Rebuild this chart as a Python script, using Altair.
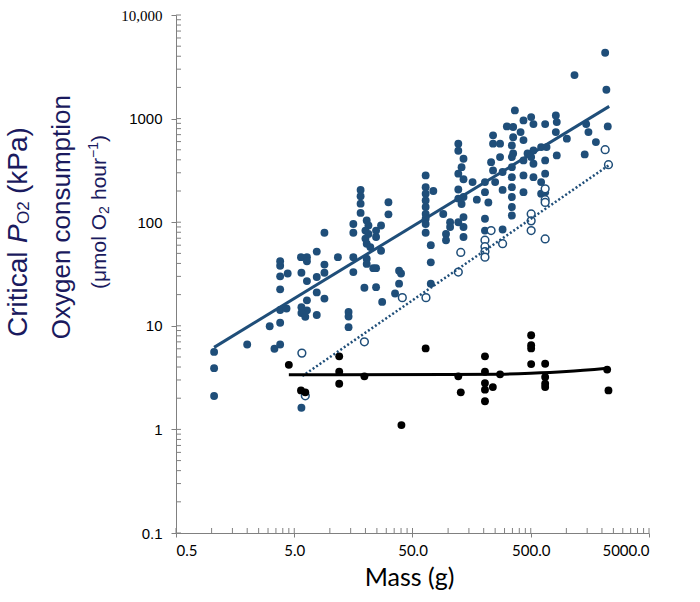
import altair as alt
import pandas as pd

# Oxygen consumption (umol O2 per hour) against body mass (g), filled markers
mass_filled = [
    1.05, 1.05, 1.05, 2.0, 3.1, 3.4,
    3.8, 3.8, 3.8, 3.8, 3.8, 3.8, 3.8, 4.3, 4.4,
    5.7, 6.4, 6.4, 5.75, 6.4, 7.75, 9.0, 9.0, 9.0, 7.75, 7.75, 9.0,
    6.4, 5.75, 6.4, 5.75, 6.2, 7.75, 5.75, 11.7,
    15.8, 15.8, 15.8, 15.8, 19.6, 14.4, 14.4, 14.4,
    24.6, 24.6, 27.7, 27.1, 35.6, 38.5, 40.0, 38.5,
    18.2, 18.2, 18.2, 18.2,
    20.5, 21.2, 20.0, 21.2, 20.0, 20.5, 22.0,
    27.1, 24.6, 24.6, 31.3, 31.3, 20.5, 20.5, 23.3,
    64.6, 64.6, 64.6, 64.6, 64.6, 64.6, 64.6, 64.6, 64.6,
    75, 71.4, 71.4, 71.4, 91, 104, 104, 96, 96,
    122, 122, 135, 130, 122, 135, 122, 135, 122, 130, 135, 122, 135, 135,
    161, 175,
    205, 205, 219, 205, 205, 289,
    240, 240, 275, 275, 231, 240, 289, 250, 289,
    314, 355, 434, 410, 355, 434, 346, 355, 346, 346, 346, 346, 346, 346, 346,
    367, 504, 527, 662,
    434, 527, 612, 662, 662, 434,
    504, 612, 680, 527, 470, 434, 527,
    612, 662,
    815, 830, 815, 830, 1010,
    1472, 1538, 1778, 1430,
    2129, 1172, 2180, 2240,
]
o2_filled = [
    5.6, 3.9, 2.1, 6.6, 9.9, 6.0,
    6.6, 10.7, 14.2, 22.5, 30, 38, 42, 14.7, 32,
    46, 46, 42, 32.5, 27, 52, 79, 39, 32.5, 29.6, 21, 18.3,
    17.6, 15.1, 14.1, 13.3, 12.2, 12.7, 1.62, 46,
    79, 96, 46, 33, 23.3, 13.6, 12.3, 9.7,
    23.6, 36, 17, 53, 20.5, 34, 32, 25.5,
    205, 178, 151, 123,
    104, 93, 83, 77, 69.5, 62, 57.5,
    93, 83, 72, 156, 119, 44.4, 39.6, 36,
    283, 218, 188, 162, 140, 120, 108, 96, 79,
    200, 60, 41, 25.5, 120, 100, 90, 77, 67,
    573, 490, 410, 340, 294, 260, 207, 175, 169, 150, 112, 100, 90, 72,
    244, 165,
    244, 195, 155, 108, 83, 85,
    689, 573, 573, 425, 380, 316, 305, 244, 205,
    841, 830, 961, 741, 660, 620, 550, 460, 425, 340, 272, 218, 175, 140, 116,
    1200, 1034, 885, 885,
    283, 272, 244, 294, 395, 195,
    425, 531, 531, 493, 460, 395, 367,
    188, 195,
    1074, 925, 741, 441, 640,
    885, 741, 593, 451,
    4325, 2630, 1901, 841,
]

# Open markers
mass_open = [5.8, 6.2, 19.6, 41, 65, 122, 128, 205, 205, 205, 205, 231, 289,
             504, 504, 504, 662, 662, 662, 662, 2129, 2271]
o2_open = [5.45, 2.11, 7.0, 18.7, 18.7, 33, 51, 67, 58, 52, 46, 83, 62,
           120, 103, 83, 69, 210, 165, 155, 501, 359]

# Critical PO2 (kPa)
mass_pcrit = [4.5, 5.7, 6.2, 12.0, 12.0, 12.0, 19.6, 40.3, 64.6, 122, 128,
              205, 205, 205, 205, 239, 205, 275, 504, 504, 504, 504,
              662, 662, 662, 662, 2214, 2271]
pcrit = [4.2, 2.38, 2.28, 5.07, 3.6, 2.76, 3.25, 1.1, 6.05, 3.25, 2.28,
         5.07, 3.6, 2.8, 2.42, 2.56, 1.87, 3.4, 8.1, 6.5, 6.05, 4.27,
         4.3, 3.2, 2.76, 2.56, 3.78, 2.38]

# Trend lines
trend_mass_filled = [1.05, 2303]
trend_o2_filled = [6.19, 1312]
trend_mass_open = [5.85, 2271]
trend_o2_open = [3.27, 353]
trend_mass_pcrit = [4.5, 100, 275, 500, 1000, 2214]
trend_pcrit = [3.37, 3.38, 3.41, 3.48, 3.62, 3.9]

# Axis tick values
x_major = [0.5, 5, 50, 500, 5000]
y_major = [0.1, 1, 10, 100, 1000, 10000]
x_inner = [0.5 * k * 10 ** e for e in range(4) for k in range(1, 10)] + [5000]
y_inner = [k * 10.0 ** e for e in range(-1, 4) for k in range(1, 10)] + [10000]

W, H = 473, 518
BLUE = "#1f4e79"
NAVY = "#1a1a5e"
GRAY = "#808080"

xscale = alt.Scale(type="log", domain=[0.5, 5000], nice=False)
yscale = alt.Scale(type="log", domain=[0.1, 10000], nice=False)

xaxis = alt.Axis(
    values=x_major, labelExpr="format(datum.value, '.1f')", grid=False,
    tickSize=4, tickColor=GRAY, domainColor=GRAY, labelPadding=6,
    labelFont="Lato", labelFontSize=15, labelColor="black",
    title="Mass (g)", titleFont="Lato", titleFontSize=25, titleFontWeight="normal",
    titleColor="black", titleBaseline="alphabetic", titleY=52, titleX=233,
    titleAnchor="middle", titleAlign="center",
)
yaxis = alt.Axis(
    values=y_major, grid=False, title=None,
    labelExpr="datum.value >= 10000 ? format(datum.value, ',') : (datum.value < 1 ? format(datum.value, '.1f') : format(datum.value, 'd'))",
    tickSize=5, tickColor=GRAY, domainColor=GRAY, labelPadding=9,
    labelFont={"condition": {"test": "datum.value >= 10000", "value": "Liberation Serif"},
               "value": "Liberation Sans"},
    labelFontSize=15, labelColor="black",
)


def X(field):
    return alt.X(field, scale=xscale, axis=xaxis)


def Y(field):
    return alt.Y(field, scale=yscale, axis=yaxis)


df_f = pd.DataFrame({"mass": mass_filled, "o2": o2_filled})
df_o = pd.DataFrame({"mass": mass_open, "o2": o2_open})
df_p = pd.DataFrame({"mass": mass_pcrit, "o2": pcrit})
df_tf = pd.DataFrame({"mass": trend_mass_filled, "o2": trend_o2_filled})
df_to = pd.DataFrame({"mass": trend_mass_open, "o2": trend_o2_open})
df_tp = pd.DataFrame({"mass": trend_mass_pcrit, "o2": trend_pcrit})

filled = alt.Chart(df_f).mark_circle(size=62, color=BLUE, opacity=1).encode(
    x=X("mass:Q"), y=Y("o2:Q"))
hollow = alt.Chart(df_o).mark_point(shape="circle", size=60, filled=False, fill="white",
                                     color=BLUE, strokeWidth=1.5, opacity=1).encode(
    x=X("mass:Q"), y=Y("o2:Q"))
black = alt.Chart(df_p).mark_circle(size=62, color="black", opacity=1).encode(
    x=X("mass:Q"), y=Y("o2:Q"))
line_f = alt.Chart(df_tf).mark_line(color=BLUE, strokeWidth=3).encode(
    x=X("mass:Q"), y=Y("o2:Q"))
line_o = alt.Chart(df_to).mark_line(color=BLUE, strokeWidth=2.5, strokeDash=[2, 2.2]).encode(
    x=X("mass:Q"), y=Y("o2:Q"))
line_p = alt.Chart(df_tp).mark_line(color="black", strokeWidth=3, interpolate="monotone").encode(
    x=X("mass:Q"), y=Y("o2:Q"))

# Inward half of the axis ticks, minor ticks included
xticks_in = alt.Chart(pd.DataFrame({"mass": x_inner})).mark_rule(color=GRAY, strokeWidth=1).encode(
    x=X("mass:Q"), y=alt.value(H - 5), y2=alt.value(H),
)
yticks_in = alt.Chart(pd.DataFrame({"o2": y_inner})).mark_rule(color=GRAY, strokeWidth=1).encode(
    y=Y("o2:Q"), x=alt.value(0), x2=alt.value(5),
)


def title_piece(text, x, y, size, style="normal", align="left"):
    return alt.Chart(alt.Data(values=[{}])).mark_text(
        text=text, angle=270, align=align, baseline="alphabetic",
        font="Liberation Sans", fontSize=size, fontStyle=style, color=NAVY,
    ).encode(x=alt.value(x), y=alt.value(y))


# Rotated y-axis title, three lines, with sub- and superscripts
L, T = 176, 15
titles = [
    title_piece("Critical", 27 - L, 337 - T, 28),
    title_piece("P", 27 - L, 243 - T, 28, style="italic"),
    title_piece("O2", 29 - L, 224 - T, 17),
    title_piece("(kPa)", 27 - L, 194 - T, 28),
    title_piece("Oxygen consumption", 70 - L, 95 - T, 26, align="right"),
    title_piece("(\u03bcmol O", 106 - L, 289 - T, 21),
    title_piece("2", 109 - L, 214 - T, 14),
    title_piece("hour", 106 - L, 200 - T, 21),
    title_piece("\u22121", 98 - L, 158 - T, 14),
    title_piece(")", 106 - L, 142 - T, 21),
]

chart = alt.layer(
    filled, xticks_in, yticks_in, hollow, black, line_f, line_o, line_p, *titles
).properties(
    width=W, height=H,
    padding={"left": L, "top": T, "right": 700 - L - W, "bottom": 602 - T - H},
    autosize=alt.AutoSizeParams(type="none"),
    background="white",
).configure_view(stroke=None)

chart.save("out.html", embed_options={"renderer": "svg", "actions": False})
